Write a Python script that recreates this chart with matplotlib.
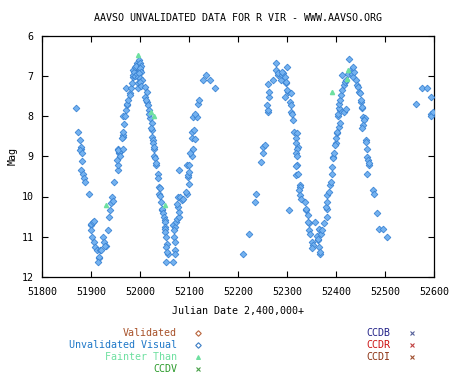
import matplotlib
matplotlib.use('Agg')
import matplotlib.pyplot as plt
from matplotlib.lines import Line2D

# data #########################################################################

# unvalidated visual estimates (JD - 2,400,000, magnitude)
vis_jd = [
    51869, 51874, 51878, 51879, 51880, 51878, 51881, 51882, 51879, 51884,
    51886, 51888, 51895, 51901, 51900, 51905, 51907, 51901, 51903, 51906,
    51908, 51912, 51916, 51917, 51915, 51918, 51921, 51925, 51927, 51931,
    51929, 51935, 51937, 51939, 51941, 51943, 51944, 51947, 51956, 51956,
    51954, 51958, 51957, 51956, 51955, 51959, 51965, 51965, 51966, 51964,
    51965, 51967, 51965, 51970, 51971, 51974, 51973, 51976, 51980, 51979,
    51971, 51981, 51984, 51985, 51986, 51986, 51988, 51990, 51993, 51992,
    51990, 51994, 51996, 51995, 51998, 52000, 52002, 52001, 51999, 52003,
    51997, 52001, 52005, 51999, 51995, 52003, 52010, 52014, 52010, 52014,
    52013, 52017, 52018, 52020, 52019, 52024, 52024, 52023, 52025, 52027,
    52026, 52029, 52028, 52029, 52030, 52032, 52033, 52036, 52037, 52039,
    52040, 52039, 52041, 52043, 52044, 52045, 52046, 52048, 52051, 52050,
    52051, 52050, 52052, 52054, 52056, 52054, 52058, 52056, 52054, 52068,
    52068, 52072, 52070, 52069, 52072, 52071, 52072, 52073, 52076, 52080,
    52079, 52078, 52076, 52078, 52082, 52085, 52088, 52095, 52094, 52099,
    52097, 52098, 52100, 52080, 52095, 52101, 52109, 52107, 52103, 52106,
    52112, 52107, 52110, 52109, 52116, 52113, 52118, 52120, 52129, 52135,
    52143, 52153,
    52211, 52223, 52235, 52237, 52247, 52250, 52252, 52256, 52262, 52261,
    52259, 52264, 52264, 52262, 52277, 52278, 52282, 52281, 52272, 52287,
    52289, 52292, 52290, 52295, 52298, 52297, 52301, 52303, 52301, 52295,
    52309, 52305, 52307, 52308, 52309, 52310, 52313, 52315, 52320, 52318,
    52319, 52322, 52320, 52318, 52320, 52320, 52319, 52318, 52323, 52327,
    52326, 52325, 52327, 52329, 52337, 52339, 52338, 52342, 52344, 52343,
    52345, 52347, 52350, 52353, 52352, 52357, 52361, 52364, 52363, 52367,
    52366, 52369, 52366, 52367, 52368, 52372, 52375, 52381, 52381, 52380,
    52382, 52381, 52385, 52388, 52389, 52392, 52392, 52394, 52394, 52396,
    52399, 52398, 52400, 52403, 52402, 52406, 52408, 52405, 52404, 52408,
    52407, 52406, 52409, 52411, 52413, 52417, 52420, 52416, 52418, 52420,
    52427, 52413, 52424, 52430, 52432, 52433, 52434, 52436, 52435, 52440,
    52442, 52444, 52447, 52449, 52451, 52450, 52454, 52453, 52456, 52459,
    52458, 52456, 52454, 52461, 52462, 52463, 52463, 52466, 52467, 52468,
    52463, 52475, 52478, 52484, 52488, 52495, 52505,
    52563, 52575, 52586, 52594, 52594, 52594, 52597,
]
vis_mag = [
    7.81, 8.39, 8.60, 8.81, 8.78, 8.85, 8.93, 9.12, 9.33, 9.43,
    9.54, 9.64, 9.93, 10.71, 10.68, 10.63, 10.60, 10.84, 11.00, 11.14,
    11.25, 11.34, 11.54, 11.50, 11.63, 11.34, 11.34, 11.00, 11.13, 11.24,
    11.22, 10.84, 10.52, 10.34, 10.17, 10.01, 10.12, 9.64, 9.35, 9.22,
    9.10, 8.93, 8.89, 8.81, 8.85, 9.00, 8.81, 8.52, 8.48, 8.55,
    8.39, 8.19, 8.00, 8.00, 7.85, 7.73, 7.70, 7.60, 7.44, 7.48,
    7.31, 7.31, 7.19, 7.02, 6.98, 6.86, 6.90, 6.78, 6.69, 6.75,
    7.00, 6.95, 7.02, 7.19, 6.62, 6.69, 6.75, 6.86, 6.80, 6.90,
    6.93, 7.05, 7.10, 7.15, 7.30, 7.25, 7.27, 7.40, 7.52, 7.65,
    7.60, 7.73, 7.85, 8.06, 7.95, 8.18, 8.35, 8.30, 8.52, 8.60,
    8.68, 8.81, 8.76, 9.00, 9.05, 9.22, 9.18, 9.43, 9.55, 9.76,
    9.80, 9.93, 9.98, 10.13, 10.34, 10.30, 10.42, 10.50, 10.59, 10.63,
    10.76, 10.80, 10.88, 11.00, 11.17, 11.25, 11.42, 11.38, 11.63, 11.63,
    10.71, 10.76, 10.84, 11.00, 11.13, 11.34, 11.42, 10.63, 10.55, 10.51,
    10.38, 10.26, 10.18, 10.01, 10.01, 10.09, 10.05, 9.93, 9.88, 9.68,
    9.51, 9.47, 9.40, 9.33, 9.22, 9.22, 8.81, 9.00, 8.93, 8.55,
    8.56, 8.39, 8.35, 8.02, 8.02, 7.95, 7.69, 7.60, 7.11, 6.98,
    7.11, 7.31,
    11.44, 10.92, 10.13, 9.93, 9.14, 8.92, 8.78, 8.72, 7.90, 7.85,
    7.73, 7.52, 7.40, 7.21, 6.69, 6.86, 6.98, 6.92, 7.11, 7.11,
    6.98, 6.94, 6.90, 7.03, 7.19, 7.15, 6.78, 7.40, 7.36, 7.52,
    7.44, 10.34, 7.65, 7.73, 7.90, 7.95, 8.10, 8.40, 8.43, 8.55,
    8.68, 8.77, 8.81, 8.93, 9.00, 9.22, 9.25, 9.47, 9.43, 9.72,
    9.77, 9.85, 9.97, 10.05, 10.13, 10.34, 10.30, 10.47, 10.67, 10.63,
    10.84, 10.92, 11.13, 11.21, 11.27, 10.63, 10.99, 11.09, 11.05, 10.84,
    10.80, 10.92, 11.25, 11.42, 11.38, 10.84, 10.67, 10.51, 10.30, 10.26,
    10.13, 9.97, 9.88, 9.72, 9.64, 9.43, 9.26, 9.01, 9.05, 8.93,
    8.68, 8.72, 8.55, 8.43, 8.40, 8.27, 8.18, 8.00, 7.95, 7.85,
    7.80, 7.69, 7.60, 7.48, 7.36, 7.90, 7.82, 7.23, 7.15, 7.10,
    6.59, 6.98, 6.95, 6.86, 6.90, 6.95, 7.02, 6.90, 6.78, 7.10,
    7.23, 7.27, 7.40, 7.44, 7.65, 7.60, 7.81, 7.77, 8.02, 8.06,
    8.10, 8.23, 8.31, 8.60, 8.64, 8.81, 9.01, 9.10, 9.22, 9.18,
    9.43, 9.85, 9.93, 10.42, 10.81, 10.81, 11.00,
    7.70, 7.31, 7.31, 7.52, 7.96, 8.00, 7.90,
]

# "fainter than" estimates
fnt_jd = [51930, 51995, 52022, 52029, 52050, 52391, 52422, 52424]
fnt_mag = [10.22, 6.49, 7.90, 8.00, 10.22, 7.41, 7.07, 6.86]

title = 'AAVSO UNVALIDATED DATA FOR R VIR - WWW.AAVSO.ORG'
x_ticks = [51800, 51900, 52000, 52100, 52200, 52300, 52400, 52500, 52600]
y_ticks = [6, 7, 8, 9, 10, 11, 12]

# legend entries: label, text colour, marker, marker colour
legend_left = [
    ('Validated', '#a8522a', 'D', '#b8643c'),
    ('Unvalidated Visual', '#1f78c8', 'D', '#3a7cc4'),
    ('Fainter Than', '#6ee0a0', '^', '#6ee0a0'),
    ('CCDV', '#2a9a2a', 'x', '#4aa04a'),
]
legend_right = [
    ('CCDB', '#222288', 'x', '#55609a'),
    ('CCDR', '#cc1111', 'x', '#c04040'),
    ('CCDI', '#8b3010', 'x', '#a05030'),
]

# plot #########################################################################

plt.rcParams['font.family'] = ['DejaVu Sans Mono']
FS = 7.2

fig = plt.figure(figsize=(4.5, 3.75), dpi=100)
ax = fig.add_axes([42/450, 1-277/375, 392/450, 241.5/375])

ax.plot(vis_jd, vis_mag, 'D', ms=3.4, mfc='#74b2f0', mec='#3b84d4',
        mew=0.6, ls='none', zorder=3)
ax.plot(fnt_jd, fnt_mag, '^', ms=3.0, mfc='#6ee0a0', mec='#6ee0a0',
        ls='none', zorder=4)

ax.set_xlim(51800, 52600)
ax.set_ylim(12, 6)
ax.set_xticks(x_ticks)
ax.set_yticks(y_ticks)
ax.tick_params(direction='in', length=4, width=0.8, top=True, right=True,
               labelsize=FS)
ax.tick_params(axis='x', pad=7)
ax.tick_params(axis='y', pad=6)
for s in ax.spines.values():
    s.set_linewidth(0.9)

fig.text(238/450, 1-18/375, title, ha='center', va='center', fontsize=FS)
ax.set_xlabel('Julian Date 2,400,000+', fontsize=FS, labelpad=7)
ax.set_ylabel('Mag', fontsize=FS, labelpad=3)

# legend below the plot, written by hand like the original
def legend_column(entries, x_text, x_mark, y0):
    for i, (lab, tcol, mk, mcol) in enumerate(entries):
        y = 1 - (y0 + 12*i)/375
        fig.text(x_text/450, y, lab, color=tcol, fontsize=FS,
                 ha='right', va='center')
        fig.add_artist(Line2D([x_mark/450], [y], marker=mk, ms=2.8,
                              mfc='none' if mk == 'D' else mcol, mec=mcol,
                              mew=0.8, ls='none', transform=fig.transFigure))

legend_column(legend_left, 177, 198, 333)
legend_column(legend_right, 390, 412, 333)

fig.savefig('out.png', dpi=100)
